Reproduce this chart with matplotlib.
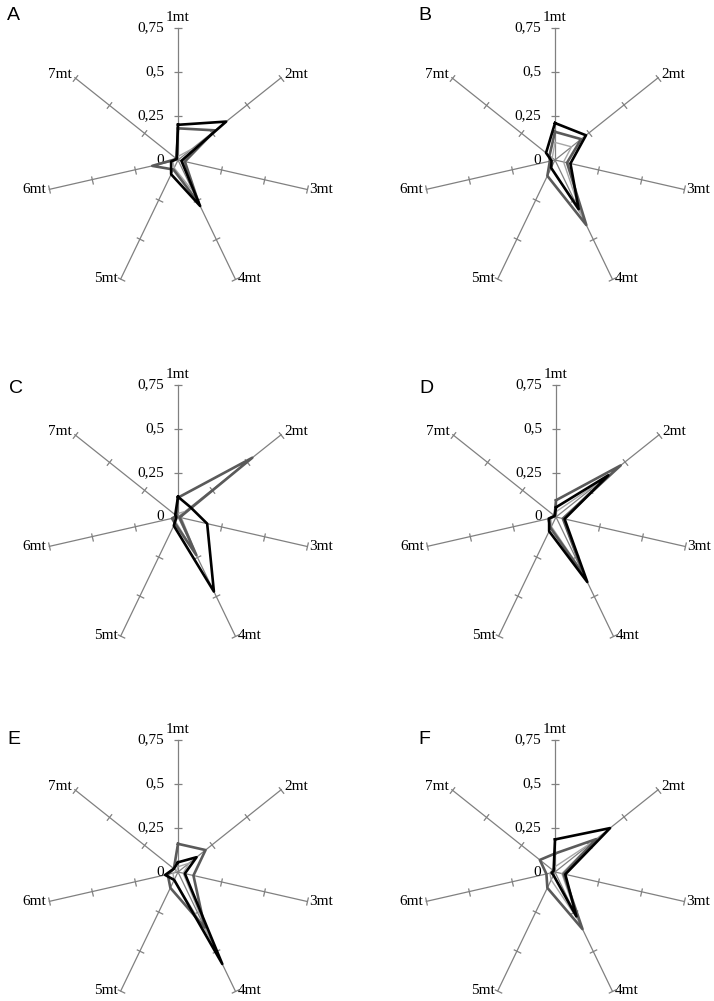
import numpy as np
from matplotlib import pyplot as plt

# axis names and scale
categories = ["1mt", "2mt", "3mt", "4mt", "5mt", "6mt", "7mt"]
r_ticks = [0.25, 0.5, 0.75]
r_tick_labels = ["0,25", "0,5", "0,75"]
panels = ["A", "B", "C", "D", "E", "F"]

# values: black / dark grey / light grey series
A_black = [0.20, 0.35, 0.02, 0.29, 0.09, 0.04, 0.01]
A_dark = [0.18, 0.27, 0.04, 0.27, 0.06, 0.15, 0.01]
A_light = [0.02, 0.10, 0.03, 0.20, 0.05, 0.03, 0.01]

B_black = [0.21, 0.225, 0.09, 0.31, 0.05, 0.02, 0.065]
B_dark = [0.16, 0.19, 0.07, 0.41, 0.10, 0.03, 0.04]
B_light = [0.10, 0.12, 0.05, 0.35, 0.05, 0.02, 0.02]

C_black = [0.115, 0.09, 0.17, 0.47, 0.055, 0.01, 0.02]
C_dark = [0.11, 0.54, 0.01, 0.24, 0.04, 0.035, 0.01]
C_light = [0.02, 0.05, 0.02, 0.25, 0.03, 0.02, 0.01]

D_black = [0.055, 0.38, 0.05, 0.41, 0.09, 0.04, 0.01]
D_dark = [0.095, 0.47, 0.04, 0.37, 0.07, 0.045, 0.01]
D_light = [0.03, 0.33, 0.04, 0.35, 0.06, 0.03, 0.01]

E_black = [0.055, 0.135, 0.04, 0.58, 0.05, 0.075, 0.03]
E_dark = [0.16, 0.20, 0.09, 0.35, 0.10, 0.06, 0.03]
E_light = [0.03, 0.08, 0.03, 0.40, 0.05, 0.03, 0.01]

F_black = [0.185, 0.40, 0.06, 0.28, 0.02, 0.02, 0.01]
F_dark = [0.105, 0.30, 0.05, 0.36, 0.10, 0.05, 0.11]
F_light = [0.03, 0.28, 0.04, 0.30, 0.05, 0.03, 0.02]

series = {
    "A": (A_light, A_dark, A_black),
    "B": (B_light, B_dark, B_black),
    "C": (C_light, C_dark, C_black),
    "D": (D_light, D_dark, D_black),
    "E": (E_light, E_dark, E_black),
    "F": (F_light, F_dark, F_black),
}
styles = [("#a6a6a6", 1.0), ("#5a5a5a", 1.9), ("#000000", 1.9)]

# panel centres in pixels (x, y from top)
centres = [(178, 160), (555, 160), (178, 517), (556, 517), (178, 872), (555, 872)]
letter_pos = [(7, 7), (418, 7), (9, 380), (419, 380), (7, 731), (418, 731)]

W, H = 714, 1001
R = 132  # radius of 0.75 in px

serif = "Liberation Serif"
fig = plt.figure(figsize=(W / 100, H / 100), dpi=100)

theta = np.arange(len(categories)) * 2 * np.pi / len(categories)
label_off = [(0, 3, "center", "bottom"), (2, 2, "left", "center"),
             (2, 0, "left", "center"), (2, 0, "left", "center"),
             (-2, 0, "right", "center"), (-2, 0, "right", "center"),
             (-2, 2, "right", "center")]

for name, (cx, cy), (lx, ly) in zip(panels, centres, letter_pos):
    ax = fig.add_axes([(cx - R) / W, (H - cy - R) / H, 2 * R / W, 2 * R / H],
                      projection="polar")
    ax.set_theta_zero_location("N")
    ax.set_theta_direction(-1)
    ax.set_ylim(0, 0.75)
    ax.set_axis_off()

    # spokes with ticks
    for k, t in enumerate(theta):
        ax.plot([t, t], [0, 0.75], color="#808080", lw=0.9, clip_on=False, zorder=1)
        ang = 90 - np.degrees(t)
        ax.plot([t] * len(r_ticks), r_ticks, ls="none", marker=(2, 0, ang),
                ms=6, mec="#808080", mew=0.9, clip_on=False, zorder=1)
        dx, dy, ha, va = label_off[k]
        ax.annotate(categories[k], xy=(t, 0.75), xytext=(dx, dy),
                    textcoords="offset points", ha=ha, va=va,
                    fontsize=11, family=serif)

    for val, lab in zip([0] + r_ticks, ["0"] + r_tick_labels):
        ax.annotate(lab, xy=(0, val), xytext=(-10, 0), textcoords="offset points",
                    ha="right", va="center", fontsize=11, family=serif)

    for vals, (col, lw) in zip(series[name], styles):
        ax.plot(np.append(theta, theta[0]), vals + vals[:1], color=col, lw=lw,
                clip_on=False, zorder=3)

    fig.text(lx / W, 1 - ly / H, name, ha="left", va="top", fontsize=14,
             family="Liberation Sans")

fig.savefig("out.png", dpi=100)
